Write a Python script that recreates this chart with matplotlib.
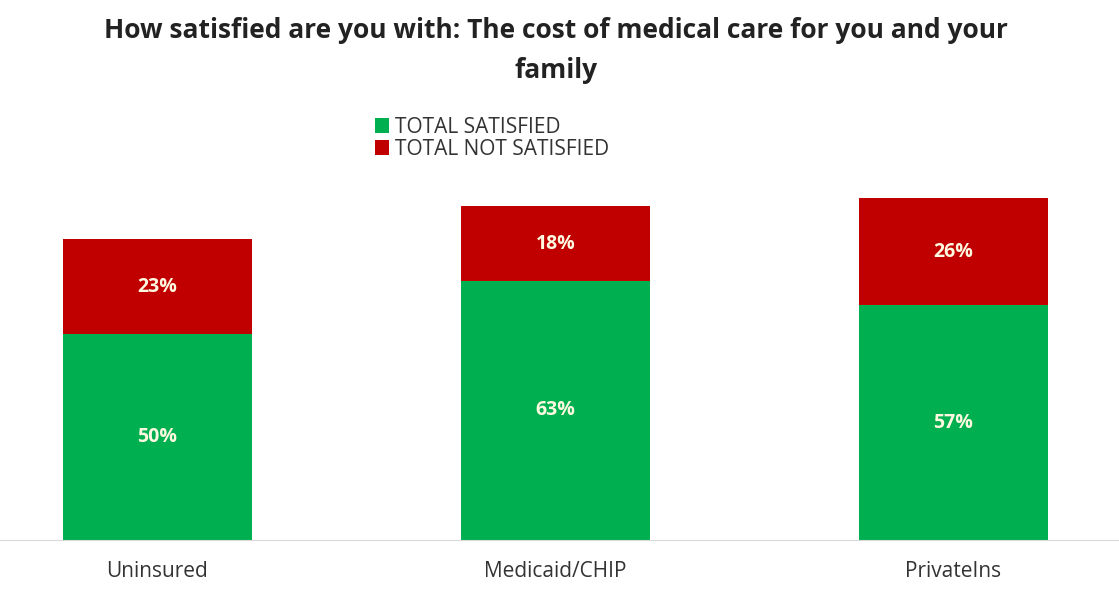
import numpy as np
import matplotlib.pyplot as plt

groups = ["Uninsured", "Medicaid/CHIP", "PrivateIns"]
satisfied = [50, 63, 57]
not_satisfied = [23, 18, 26]

GREEN = "#00B050"
RED = "#C00000"

fig = plt.figure(figsize=(11.19, 6.07), dpi=100)
ax = fig.add_axes([0, 67 / 607, 1, 350 / 607])

x = np.arange(len(groups))
w = 0.477
b1 = ax.bar(x, satisfied, w, color=GREEN, label="TOTAL SATISFIED")
b2 = ax.bar(x, not_satisfied, w, bottom=satisfied, color=RED, label="TOTAL NOT SATISFIED")

for i in range(len(groups)):
    ax.text(x[i], satisfied[i] / 2, f"{satisfied[i]}%", ha="center", va="center",
            color="#FFF8E0", fontsize=14, fontweight="bold", family="Open Sans")
    ax.text(x[i], satisfied[i] + not_satisfied[i] / 2, f"{not_satisfied[i]}%",
            ha="center", va="center", color="#FFF8E0", fontsize=14,
            fontweight="bold", family="Open Sans")

ax.set_xlim(-157.5 / 398, (1119 - 157.5) / 398)
ax.set_ylim(0, 85)
ax.set_xticks(x)
ax.set_xticklabels(groups, fontsize=15, color="#333333", family="Open Sans")
ax.tick_params(axis="x", length=0, pad=15)
ax.set_yticks([])
for s in ["top", "left", "right"]:
    ax.spines[s].set_visible(False)
ax.spines["bottom"].set_color("#D9D9D9")

fig.text(0.497, 1 - 30 / 607,
         "How satisfied are you with: The cost of medical care for you and your",
         ha="center", va="center", fontsize=19, fontweight="bold",
         family="Open Sans", color="#222222")
fig.text(0.497, 1 - 70 / 607, "family", ha="center", va="center",
         fontsize=19, fontweight="bold", family="Open Sans", color="#222222")

leg = fig.legend(handles=[b1, b2], loc="upper left",
                 bbox_to_anchor=(360 / 1119, 1 - 102 / 607), frameon=False,
                 prop={"family": "Open Sans", "size": 15}, handlelength=0.7,
                 handleheight=0.7, handletextpad=0.3, labelspacing=0.05,
                 borderpad=0.2)
for t in leg.get_texts():
    t.set_color("#333333")

fig.savefig("out.png", dpi=100)
